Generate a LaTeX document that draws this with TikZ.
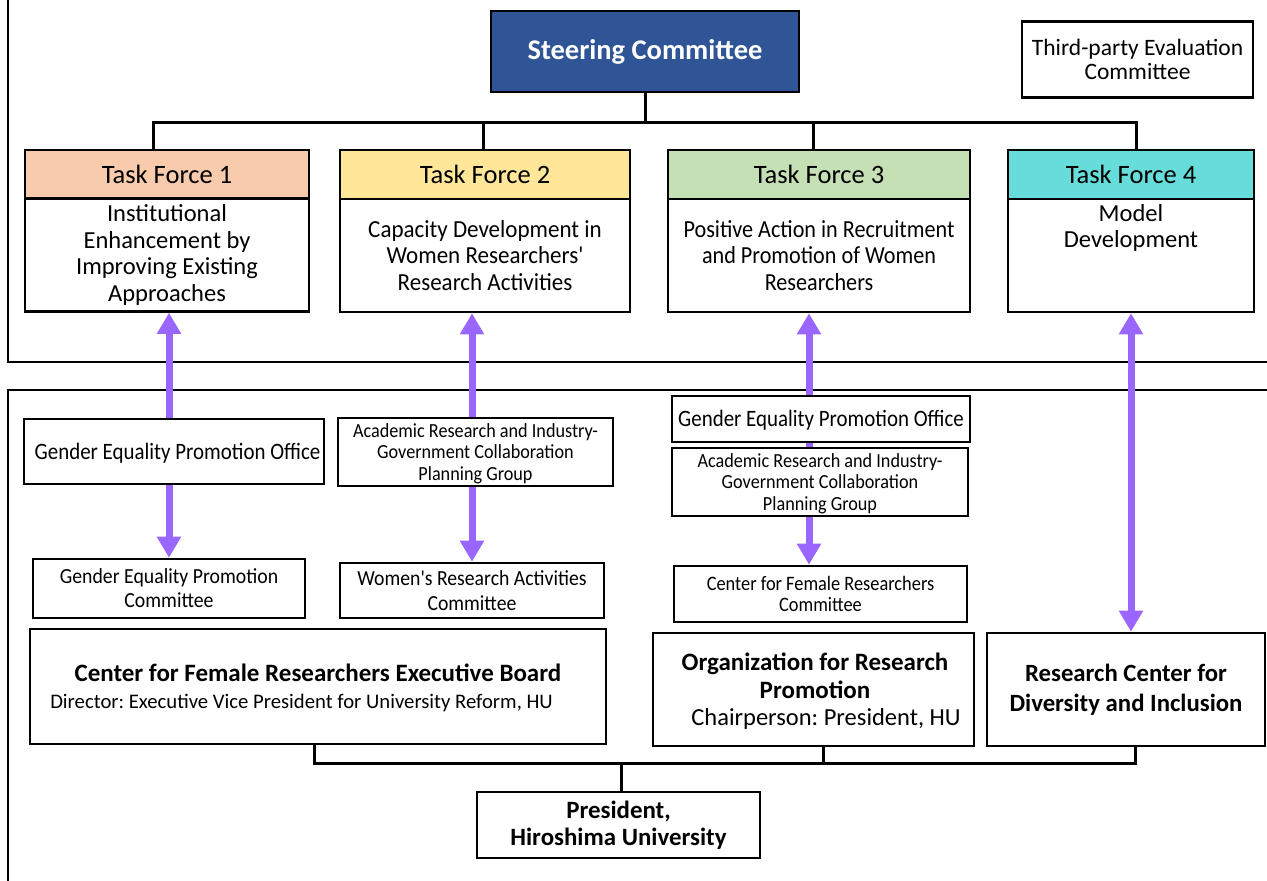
\documentclass[tikz,border=0pt]{standalone}
\usepackage{fontspec}
\usepackage{graphicx}
\setmainfont{Carlito}[Ligatures=TeXOff]
\usetikzlibrary{arrows.meta}
\definecolor{steerblue}{HTML}{2F5597}
\definecolor{tfone}{HTML}{F8CBAD}
\definecolor{tftwo}{HTML}{FFE699}
\definecolor{tfthree}{HTML}{C5E0B4}
\definecolor{tffour}{HTML}{66DDDA}
\definecolor{arrviolet}{HTML}{9966FF}
\newcommand\myfs[2]{\fontsize{#1}{#2}\selectfont}
\newcommand\sqz[3][-2.5pt]{\raisebox{#1}[\height][\depth]{\scalebox{#2}[1]{\begin{tabular}{@{}c@{}}#3\end{tabular}}}}
\tikzset{
  box/.style={draw=black, line width=2.6pt, inner sep=0pt, align=center, fill=white, text=black},
  plain/.style={inner sep=0pt, align=center, text=black},
  conn/.style={draw=black, line width=3pt},
  frameline/.style={draw=black, line width=2.2pt},
  parr/.style={draw=arrviolet, line width=7pt, -{Triangle[width=23pt,length=21pt]}},
  parrboth/.style={draw=arrviolet, line width=7pt, {Triangle[width=23pt,length=21pt]}-{Triangle[width=23pt,length=21pt]}},
  pline/.style={draw=arrviolet, line width=7pt},
}
\begin{document}
\frenchspacing
\begin{tikzpicture}[x=1pt,y=-1pt]
\useasboundingbox (0,0) rectangle (1267,881);
\fill[white] (0,0) rectangle (1267,881);

% frames
\draw[frameline] (8,0) -- (8,362) -- (1267,362);
\draw[frameline] (8,881) -- (8,390) -- (1267,390);

% top level
\node[box, fill=steerblue, minimum width=308pt, minimum height=81pt, text=white, font=\myfs{28.5}{32}\bfseries] (steer) at (645,51.5) {Steering Committee};
\node[box, minimum width=231pt, minimum height=76pt, font=\myfs{23.5}{24}] (third) at (1137.5,59.5) {Third-party Evaluation\\Committee};

% task forces
\node[box, fill=tfone, minimum width=284pt, minimum height=49pt, font=\myfs{26.5}{28}] (tf1h) at (167,174.5) {Task Force 1};
\node[box, minimum width=284pt, minimum height=113pt, font=\myfs{24.5}{26.7}] (tf1b) at (167,255) {Institutional\\Enhancement by\\Improving Existing\\Approaches};
\node[box, fill=tftwo, minimum width=290pt, minimum height=49pt, font=\myfs{26.5}{28}] (tf2h) at (485,174.5) {Task Force 2};
\node[box, minimum width=290pt, minimum height=113pt, font=\myfs{24.5}{26.5}] (tf2b) at (485,255.5) {\sqz[-3pt]{0.94}{Capacity Development in\\Women Researchers'\\Research Activities}};
\node[box, fill=tfthree, minimum width=302pt, minimum height=49pt, font=\myfs{26.5}{28}] (tf3h) at (819,174.5) {Task Force 3};
\node[box, minimum width=302pt, minimum height=113pt, font=\myfs{24.5}{26.5}] (tf3b) at (819,255.5) {\sqz[-3pt]{0.905}{Positive Action in Recruitment\\and Promotion of Women\\Researchers}};
\node[box, fill=tffour, minimum width=246pt, minimum height=49pt, font=\myfs{26.5}{28}] (tf4h) at (1131,174.5) {Task Force 4};
\node[box, minimum width=246pt, minimum height=113pt] (tf4b) at (1131,255.5) {};
\node[plain, font=\myfs{24.5}{26}] (tf4t) at (1131,227.5) {Model\\Development};

% steering connectors
\coordinate (busA) at (0,122);
\draw[conn] (steer.south) -- (steer.south |- busA);
\draw[conn] ([xshift=-14pt]tf1h.north) |- ([xshift=5pt]tf4h.north |- busA) -- ([xshift=5pt]tf4h.north);
\draw[conn] ([xshift=-2pt]tf2h.north) -- ([xshift=-2pt]tf2h.north |- busA);
\draw[conn] ([xshift=-6pt]tf3h.north) -- ([xshift=-6pt]tf3h.north |- busA);

% lower boxes
\node[box, minimum width=300pt, minimum height=65pt, font=\myfs{23.5}{24}] (gepo1) at (174,451.5) {\hspace*{7pt}\sqz[-3pt]{0.89}{Gender Equality Promotion Office}};
\node[box, minimum width=275pt, minimum height=68pt, font=\myfs{20}{21.5}] (acad1) at (475.5,452) {\sqz{0.91}{Academic Research and Industry-\\Government Collaboration\\Planning Group}};
\node[box, minimum width=272pt, minimum height=59pt, font=\myfs{21.5}{23.5}] (gepc) at (169,588.5) {\sqz{0.92}{Gender Equality Promotion\\Committee}};
\node[box, minimum width=264pt, minimum height=55pt, font=\myfs{21.5}{25}] (wrac) at (472,590.5) {\sqz{0.917}{Women's Research Activities\\Committee}};
\node[box, minimum width=298pt, minimum height=46pt, font=\myfs{23.5}{24}] (gepo2) at (821,419) {\sqz{0.89}{Gender Equality Promotion Office}};
\node[box, minimum width=296pt, minimum height=68pt, font=\myfs{20}{21.5}] (acad2) at (820,482) {\sqz{0.91}{Academic Research and Industry-\\Government Collaboration\\Planning Group}};
\node[box, minimum width=293pt, minimum height=56pt, font=\myfs{20.5}{21.5}] (cfrc) at (820.5,594) {\sqz{0.895}{Center for Female Researchers\\Committee}};

\node[box, minimum width=576pt, minimum height=115pt] (cfreb) at (318,686.5) {};
\node[plain, font=\myfs{25}{28}\bfseries] (cfrebt) at (318,673) {Center for Female Researchers Executive Board};
\node[plain, font=\myfs{20.7}{24}] (cfrebs) at (301.5,703) {Director: Executive Vice President for University Reform, HU};

\node[box, minimum width=321pt, minimum height=113pt] (orp) at (813.5,689.5) {};
\node[plain, font=\myfs{25}{28}\bfseries] (orpt) at (815,676) {Organization for Research\\Promotion};
\node[plain, font=\myfs{24.5}{26}] (orps) at (826,719) {Chairperson: President, HU};

\node[box, minimum width=278pt, minimum height=113pt, font=\myfs{24.8}{30}\bfseries] (rcdi) at (1126,689.5) {Research Center for\\Diversity and Inclusion};

\node[box, minimum width=283pt, minimum height=66pt, font=\myfs{24.9}{27}\bfseries] (pres) at (618.5,825) {President,\\Hiroshima University};

% bottom connectors
\coordinate (busB) at (0,763);
\draw[conn] ([xshift=-4pt]cfreb.south) |- ([xshift=9pt]rcdi.south |- busB) -- ([xshift=9pt]rcdi.south);
\draw[conn] ([xshift=9.5pt]orp.south) -- ([xshift=9.5pt]orp.south |- busB);
\draw[conn] ([xshift=2.5pt]pres.north) -- ([xshift=2.5pt]pres.north |- busB);

% purple arrows
\draw[parr] ([xshift=-5pt]gepo1.north) -- ([xshift=-5pt]gepo1.north |- tf1b.south);
\draw[parr] (gepc.north |- gepo1.south) -- (gepc.north);
\draw[parr] (wrac.north |- acad1.north) -- (wrac.north |- tf2b.south);
\draw[parr] (wrac.north |- acad1.south) -- (wrac.north);
\draw[parr] ([xshift=-12pt]gepo2.north) -- ([xshift=-12pt]gepo2.north |- tf3b.south);
\draw[pline] ([xshift=-12pt]gepo2.south) -- ([xshift=-12pt]gepo2.south |- acad2.north);
\draw[parr] ([xshift=-11pt]acad2.south) -- ([xshift=-11pt]acad2.south |- cfrc.north);
\draw[parrboth] (tf4b.south) -- (tf4b.south |- rcdi.north);
\end{tikzpicture}
\end{document}
